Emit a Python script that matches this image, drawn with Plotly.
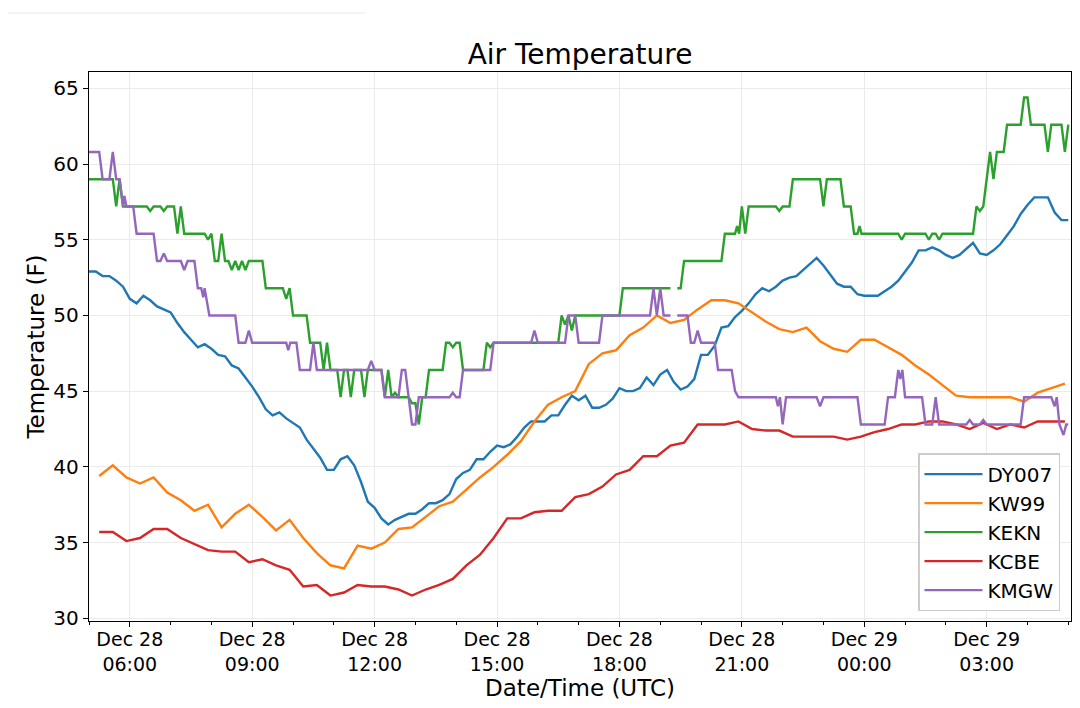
import plotly.graph_objects as go
from datetime import datetime, timedelta

# ---------------- data (times are UTC, "HH:MM", day rolls over after midnight) ----------------
BASE_DAY = datetime(2018, 12, 28)

DY007_TIMES = """
05:00 05:10 05:20 05:30 05:40 05:50 06:00 06:10 06:20 06:30 06:40 06:50
07:00 07:10 07:20 07:30 07:40 07:50 08:00 08:10 08:20 08:30 08:40 08:50
09:00 09:10 09:20 09:30 09:40 09:50 10:00 10:10 10:20 10:30 10:40 10:50
11:00 11:10 11:20 11:30 11:40 11:50 12:00 12:10 12:20 12:30 12:40 12:50
13:00 13:10 13:20 13:30 13:40 13:50 14:00 14:10 14:20 14:30 14:40 14:50
15:00 15:10 15:20 15:30 15:40 15:50 16:00 16:10 16:20 16:30 16:40 16:50
17:00 17:10 17:20 17:30 17:40 17:50 18:00 18:10 18:20 18:30 18:40 18:50
19:00 19:10 19:20 19:30 19:40 19:50 20:00 20:10 20:20 20:30 20:40 20:50
21:00 21:10 21:20 21:30 21:40 21:50 22:00 22:10 22:20 22:30 22:40 22:50
23:00 23:10 23:20 23:30 23:40 23:50 00:00 00:10 00:20 00:30 00:40 00:50
01:00 01:10 01:20 01:30 01:40 01:50 02:00 02:10 02:20 02:30 02:40 02:50
03:00 03:10 03:20 03:30 03:40 03:50 04:00 04:10 04:20 04:30 04:40 04:50
05:00
""".split()
DY007_TEMPS = [
    52.9, 52.9, 52.6, 52.6, 52.3, 51.9, 51.1, 50.8, 51.3, 51.0, 50.6, 50.4,
    50.2, 49.5, 48.9, 48.4, 47.9, 48.1, 47.8, 47.4, 47.3, 46.7, 46.5, 45.9,
    45.3, 44.6, 43.8, 43.4, 43.6, 43.2, 42.9, 42.6, 41.8, 41.2, 40.6, 39.8,
    39.8, 40.5, 40.7, 40.1, 39.0, 37.7, 37.3, 36.6, 36.2, 36.5, 36.7, 36.9,
    36.9, 37.2, 37.6, 37.6, 37.8, 38.2, 39.2, 39.6, 39.8, 40.5, 40.5, 41.0,
    41.4, 41.3, 41.5, 42.0, 42.6, 43.0, 43.0, 43.0, 43.4, 43.4, 44.1, 44.7,
    44.4, 44.7, 43.9, 43.9, 44.1, 44.5, 45.2, 45.0, 45.0, 45.2, 45.9, 45.4,
    46.1, 46.4, 45.6, 45.1, 45.3, 45.8, 47.4, 47.4, 48.0, 49.2, 49.3, 49.9,
    50.3, 50.8, 51.4, 51.8, 51.6, 51.9, 52.3, 52.5, 52.6, 53.0, 53.4, 53.8,
    53.3, 52.7, 52.1, 51.9, 51.9, 51.4, 51.3, 51.3, 51.3, 51.6, 51.9, 52.3,
    52.9, 53.5, 54.3, 54.3, 54.5, 54.3, 54.0, 53.8, 54.0, 54.4, 54.8, 54.1,
    54.0, 54.3, 54.7, 55.3, 55.9, 56.7, 57.3, 57.8, 57.8, 57.8, 56.8, 56.3,
    56.3,
]

HOURLY3_TIMES = """
05:15 05:35 05:55 06:15 06:35 06:55 07:15 07:35 07:55 08:15 08:35 08:55
09:15 09:35 09:55 10:15 10:35 10:55 11:15 11:35 11:55 12:15 12:35 12:55
13:15 13:35 13:55 14:15 14:35 14:55 15:15 15:35 15:55 16:15 16:35 16:55
17:15 17:35 17:55 18:15 18:35 18:55 19:15 19:35 19:55 20:15 20:35 20:55
21:15 21:35 21:55 22:15 22:35 22:55 23:15 23:35 23:55 00:15 00:35 00:55
01:15 01:35 01:55 02:15 02:35 02:55 03:15 03:35 03:55 04:15 04:35 04:55
""".split()
KW99_TEMPS = [
    39.4, 40.1, 39.3, 38.9, 39.3, 38.3, 37.8, 37.1, 37.5, 36.0, 36.9, 37.5,
    36.7, 35.8, 36.5, 35.3, 34.3, 33.5, 33.3, 34.8, 34.6, 35.0, 35.9, 36.0,
    36.7, 37.4, 37.7, 38.5, 39.3, 40.0, 40.8, 41.7, 43.0, 44.1, 44.6, 45.0,
    46.8, 47.5, 47.7, 48.7, 49.2, 50.0, 49.5, 49.7, 50.4, 51.0, 51.0, 50.8,
    50.2, 49.6, 49.1, 48.9, 49.2, 48.3, 47.8, 47.6, 48.4, 48.4, 47.9, 47.4,
    46.7, 46.1, 45.4, 44.7, 44.6, 44.6, 44.6, 44.6, 44.3, 44.9, 45.2, 45.5,
]
KCBE_TEMPS = [
    35.7, 35.7, 35.1, 35.3, 35.9, 35.9, 35.3, 34.9, 34.5, 34.4, 34.4, 33.7,
    33.9, 33.5, 33.2, 32.1, 32.2, 31.5, 31.7, 32.2, 32.1, 32.1, 31.9, 31.5,
    31.9, 32.2, 32.6, 33.5, 34.2, 35.3, 36.6, 36.6, 37.0, 37.1, 37.1, 38.0,
    38.2, 38.7, 39.5, 39.8, 40.7, 40.7, 41.4, 41.6, 42.8, 42.8, 42.8, 43.0,
    42.5, 42.4, 42.4, 42.0, 42.0, 42.0, 42.0, 41.8, 42.0, 42.3, 42.5, 42.8,
    42.8, 43.0, 43.0, 42.8, 42.5, 42.9, 42.5, 42.8, 42.6, 43.0, 43.0, 43.0,
]

KEKN_TIMES = """
05:00 05:35 05:40 05:45 05:50 06:25 06:30 06:35 06:45 06:50 06:55 07:05
07:10 07:15 07:20 07:50 07:55 08:00 08:05 08:10 08:15 08:20 08:25 08:30
08:35 08:40 08:45 08:50 08:55 09:15 09:20 09:45 09:50 09:55 10:00 10:20
10:25 10:40 10:45 10:50 10:55 11:05 11:10 11:15 11:20 11:25 11:30 11:40
11:45 11:50 12:10 12:15 12:20 12:25 12:30 12:35 12:50 12:55 13:00 13:05
13:10 13:15 13:20 13:40 13:45 13:50 13:55 14:00 14:05 14:10 14:40 14:45
14:50 14:55 16:30 16:35 16:40 16:45 16:50 16:55 18:00 18:05 19:15 19:20
19:25 19:30 19:35 20:30 20:35 20:50 20:53 20:56 21:00 21:05 21:10 21:50
21:55 22:00 22:10 22:15 22:55 23:00 23:05 23:25 23:30 23:40 23:45 23:50
23:53 23:56 00:50 00:55 01:00 01:30 01:35 01:40 01:45 01:50 01:55 02:40
02:45 02:50 02:55 03:00 03:05 03:10 03:15 03:25 03:30 03:50 03:55 04:00
04:05 04:25 04:30 04:35 04:50 04:55 05:00
""".split()
KEKN_TEMPS = [
    59.0, 59.0, 57.2, 59.0, 57.2, 57.2, 56.9, 57.2, 57.2, 56.9, 57.2, 57.2,
    55.4, 57.2, 55.4, 55.4, 55.0, 55.4, 53.6, 53.6, 55.4, 53.6, 53.6, 53.0,
    53.6, 53.0, 53.6, 53.0, 53.6, 53.6, 51.8, 51.8, 51.1, 51.8, 50.0, 50.0,
    48.2, 48.2, 46.4, 48.2, 46.4, 46.4, 44.6, 46.4, 46.4, 44.6, 46.4, 46.4,
    44.6, 46.4, 46.4, 44.6, 46.4, 44.6, 44.9, 44.6, 44.6, 44.2, 44.2, 42.8,
    44.6, 44.6, 46.4, 46.4, 48.2, 48.2, 47.9, 48.2, 48.2, 46.4, 46.4, 48.2,
    47.9, 48.2, 48.2, 50.0, 49.4, 50.0, 49.0, 50.0, 50.0, 51.8, 51.8, None,
    51.8, 51.8, 53.6, 53.6, 55.4, 55.4, 55.9, 55.4, 57.2, 55.4, 57.2, 57.2,
    56.9, 57.2, 57.2, 59.0, 59.0, 57.2, 59.0, 59.0, 57.2, 57.2, 55.4, 55.4,
    55.9, 55.4, 55.4, 55.0, 55.4, 55.4, 55.0, 55.4, 55.4, 55.0, 55.4, 55.4,
    57.2, 56.9, 57.2, 59.0, 60.8, 59.0, 60.8, 60.8, 62.6, 62.6, 64.4, 64.4,
    62.6, 62.6, 60.8, 62.6, 62.6, 60.8, 62.6,
]

KMGW_TIMES = """
05:00 05:15 05:20 05:30 05:35 05:40 05:45 05:48 05:50 05:52 05:55 06:05
06:10 06:35 06:40 06:45 06:50 06:55 07:15 07:20 07:25 07:35 07:40 07:45
07:48 07:50 07:53 07:57 08:35 08:40 08:50 08:55 09:00 09:50 09:53 09:56
10:05 10:10 10:25 10:30 10:35 11:50 11:55 12:00 12:10 12:15 12:35 12:40
12:45 12:50 12:55 13:00 13:05 13:50 13:55 14:00 14:05 14:10 14:50 14:55
15:50 15:55 16:00 16:40 16:45 16:55 17:00 17:30 17:35 18:45 18:50 18:55
19:00 19:05 19:15 19:20 19:25 19:40 19:45 19:50 19:55 20:00 20:20 20:25
20:45 20:50 20:55 21:50 21:53 21:56 22:00 22:05 22:50 22:55 23:00 23:50
23:55 00:30 00:35 00:45 00:50 00:53 00:56 01:00 01:25 01:30 01:40 01:45
01:50 02:30 02:35 02:40 02:50 02:55 03:00 03:50 03:55 04:35 04:40 04:43
04:47 04:53 04:57 05:00
""".split()
KMGW_TEMPS = [
    60.8, 60.8, 59.0, 59.0, 60.8, 59.0, 59.0, 57.9, 57.2, 57.9, 57.2, 57.2,
    55.4, 55.4, 53.6, 53.6, 54.1, 53.6, 53.6, 53.0, 53.6, 53.6, 51.8, 51.8,
    51.2, 51.8, 51.0, 50.0, 50.0, 48.2, 48.2, 49.0, 48.2, 48.2, 47.7, 48.2,
    48.2, 46.4, 46.4, 48.2, 46.4, 46.4, 47.0, 46.4, 46.4, 44.6, 44.6, 46.4,
    46.4, 44.6, 42.8, 42.8, 44.6, 44.6, 44.9, 44.6, 44.6, 46.4, 46.4, 48.2,
    48.2, 49.0, 48.2, 48.2, 50.0, 50.0, 48.2, 48.2, 50.0, 50.0, 51.8, 50.0,
    51.8, 50.0, 50.0, None, 50.0, 50.0, 48.2, 48.2, 49.0, 48.2, 48.2, 46.4,
    46.4, 45.0, 44.6, 44.6, 44.0, 44.6, 42.8, 44.6, 44.6, 44.0, 44.6, 44.6,
    42.8, 42.8, 44.6, 44.6, 46.4, 45.8, 46.4, 44.6, 44.6, 42.8, 42.8, 44.6,
    42.8, 42.8, 43.1, 42.8, 42.8, 43.1, 42.8, 42.8, 44.6, 44.6, 44.0, 44.6,
    42.8, 42.1, 42.8, 42.8,
]

X_RANGE_TIMES = ["05:00", "05:04"]          # x-axis spans 05:00 Dec 28 -> 05:04 Dec 29
Y_RANGE = [29.82, 66.08]
Y_TICKS = [30, 35, 40, 45, 50, 55, 60, 65]
X_TICK_TIMES = "06:00 09:00 12:00 15:00 18:00 21:00 00:00 03:00".split()
X_TICK_TEXT = ["Dec 28<br>06:00", "Dec 28<br>09:00", "Dec 28<br>12:00", "Dec 28<br>15:00",
               "Dec 28<br>18:00", "Dec 28<br>21:00", "Dec 29<br>00:00", "Dec 29<br>03:00"]

SERIES = [
    ("DY007", DY007_TIMES, DY007_TEMPS, "#1f77b4"),
    ("KW99", HOURLY3_TIMES, KW99_TEMPS, "#ff7f0e"),
    ("KEKN", KEKN_TIMES, KEKN_TEMPS, "#2ca02c"),
    ("KCBE", HOURLY3_TIMES, KCBE_TEMPS, "#d62728"),
    ("KMGW", KMGW_TIMES, KMGW_TEMPS, "#9467bd"),
]


def stamps(hhmm, start_day=0):
    """Convert HH:MM strings to timestamps, rolling the date after midnight."""
    out, day, prev = [], start_day, -1
    for s in hhmm:
        h, m = map(int, s.split(":"))
        mins = h * 60 + m
        if mins < prev:
            day += 1
        prev = mins
        out.append((BASE_DAY + timedelta(days=day, minutes=mins)).strftime("%Y-%m-%d %H:%M"))
    return out


for name, t, v, _ in SERIES:
    assert len(t) == len(v), name

fig = go.Figure()
for name, t, v, color in SERIES:
    fig.add_trace(go.Scatter(x=stamps(t), y=v, mode="lines", name=name,
                             line=dict(color=color, width=2.4), connectgaps=False))

x_range = [stamps([X_RANGE_TIMES[0]])[0], stamps([X_RANGE_TIMES[1]], start_day=1)[0]]

axis_common = dict(showline=True, linecolor="black", linewidth=1.4, mirror=True,
                   ticks="outside", ticklen=5, tickwidth=1.4, tickcolor="black",
                   showgrid=True, gridcolor="#ebebeb", gridwidth=1.2, zeroline=False,
                   automargin=False)

# the page body adds an 8 px offset, so margins are shifted to compensate
fig.update_layout(
    width=1080, height=708,
    margin=dict(l=81, r=17, t=64, b=95),
    paper_bgcolor="white", plot_bgcolor="white",
    font=dict(family="DejaVu Sans", size=20, color="black"),
    title=dict(text="Air Temperature", font=dict(size=28, color="black"),
               x=0.5, xref="paper", xanchor="center",
               y=1 - 46 / 708, yref="container", yanchor="middle"),
    xaxis=dict(type="date", range=x_range, tickmode="array",
               tickvals=stamps(X_TICK_TIMES), ticktext=X_TICK_TEXT,
               tickfont=dict(size=19, color="black"), ticklabelstandoff=-4,
               title=dict(text="Date/Time (UTC)", font=dict(size=23), standoff=2),
               minor=dict(dtick=3600000, tick0=x_range[0], ticks="outside", ticklen=3,
                          tickwidth=1.2, tickcolor="black", showgrid=False),
               **axis_common),
    yaxis=dict(range=Y_RANGE, tickmode="array", tickvals=Y_TICKS,
               tickfont=dict(size=20, color="black"),
               title=dict(text="Temperature (F)", font=dict(size=23), standoff=2),
               **axis_common),
    legend=dict(x=0.9888, xanchor="right", y=0.018, yanchor="bottom",
                bgcolor="rgba(255,255,255,0.85)", bordercolor="#cccccc", borderwidth=1.5,
                itemwidth=58, font=dict(size=20, color="black")),
    showlegend=True,
)

# faint separator line at the very top-left of the image
fig.add_shape(type="line", xref="paper", yref="paper",
              x0=-89 / 982, x1=276 / 982, y0=609 / 550, y1=609 / 550,
              line=dict(color="#f0f0f0", width=1.5))

fig.write_html("out.html")
